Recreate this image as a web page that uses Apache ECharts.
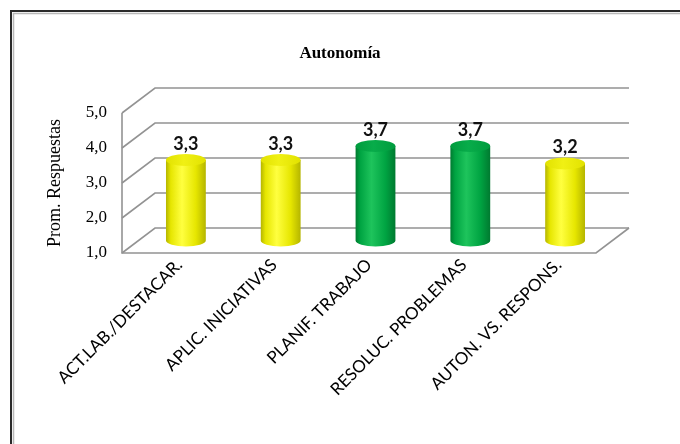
<!DOCTYPE html>
<html>
<head>
<meta charset="utf-8">
<script src="https://cdn.jsdelivr.net/npm/echarts@6/dist/echarts.min.js"></script>
<style>
  html, body { margin: 0; padding: 0; background: #ffffff; }
  #chart { width: 680px; height: 444px; }
</style>
</head>
<body>
<div id="chart"></div>
<script>
// Chart data
const categories = ['ACT.LAB./DESTACAR.', 'APLIC. INICIATIVAS', 'PLANIF. TRABAJO', 'RESOLUC. PROBLEMAS', 'AUTON. VS. RESPONS.'];
const values = [3.3, 3.3, 3.7, 3.7, 3.2];
const barColors = ['yellow', 'yellow', 'green', 'green', 'yellow'];
const yTicks = [1, 2, 3, 4, 5];

// Pseudo-3D depth of the plot box (pixels from front plane to back wall)
const DEPTH_X = 33;
const DEPTH_Y = -25;
const Y_MIN = 1;
const Y_MAX = 5;

// Front plane of the plot box
const PLOT = { left: 122, right: 84, top: 113, bottom: 191 };
// Category labels sit a little to the right of the front ticks
const LABEL_SHIFT = 10;

const palettes = {
  yellow: { edge: '#b5b500', shade: '#e6e600', light: '#ffff40', top: '#e2e200', topLight: '#f0f014' },
  green:  { edge: '#007a30', shade: '#00a442', light: '#1ec45c', top: '#009c3e', topLight: '#08ac4a' }
};

const fmt = v => v.toFixed(1).replace('.', ',');
const gridStroke = { stroke: '#939393', lineWidth: 1.6, fill: null };

// Left wall, back wall gridlines and floor outline
function renderWalls(params, api) {
  const cs = params.coordSys;
  const v = api.value(1);
  const y = api.coord([0, v])[1];
  const x0 = cs.x, x1 = cs.x + cs.width;
  const children = [{
    type: 'polyline',
    shape: { points: [[x0, y], [x0 + DEPTH_X, y + DEPTH_Y], [x1 + DEPTH_X, y + DEPTH_Y]] },
    style: gridStroke
  }];
  if (v === Y_MIN) {
    children.push({
      type: 'polyline',
      shape: { points: [[x0, cs.y], [x0, y], [x1, y], [x1 + DEPTH_X, y + DEPTH_Y]] },
      style: gridStroke
    });
  }
  return { type: 'group', children };
}

// Cylinders standing at mid-depth
function renderCylinder(params, api) {
  const i = api.value(0);
  const v = api.value(1);
  const top = api.coord([i, v]);
  const base = api.coord([i, Y_MIN]);
  const w = api.size([1, 0])[0] * 0.42;
  const cx = top[0] + DEPTH_X / 2;
  const ty = top[1] + DEPTH_Y / 2;
  const by = base[1] + DEPTH_Y / 2;
  const rx = w / 2, ry = 6;
  const pal = palettes[barColors[params.dataIndex]];
  const bodyPath = 'M' + (cx - rx) + ',' + ty + ' L' + (cx - rx) + ',' + by +
    ' A' + rx + ',' + ry + ' 0 0 0 ' + (cx + rx) + ',' + by +
    ' L' + (cx + rx) + ',' + ty + ' Z';
  const topPath = 'M' + (cx - rx) + ',' + ty +
    ' A' + rx + ',' + ry + ' 0 1 0 ' + (cx + rx) + ',' + ty +
    ' A' + rx + ',' + ry + ' 0 1 0 ' + (cx - rx) + ',' + ty + ' Z';
  return {
    type: 'group',
    children: [
      {
        type: 'path',
        shape: { pathData: bodyPath },
        style: {
          fill: new echarts.graphic.LinearGradient(0, 0, 1, 0, [
            { offset: 0, color: pal.edge },
            { offset: 0.12, color: pal.shade },
            { offset: 0.4, color: pal.light },
            { offset: 0.75, color: pal.shade },
            { offset: 1, color: pal.edge }
          ])
        }
      },
      {
        type: 'path',
        shape: { pathData: topPath },
        style: {
          fill: new echarts.graphic.LinearGradient(0, 0, 1, 0, [
            { offset: 0, color: pal.top },
            { offset: 0.45, color: pal.topLight },
            { offset: 1, color: pal.top }
          ])
        }
      },
      {
        type: 'text',
        style: {
          x: cx, y: ty - ry - 1,
          text: fmt(v),
          align: 'center', verticalAlign: 'bottom',
          fill: '#111111',
          font: 'bold 18px Lato, "Open Sans", sans-serif'
        }
      }
    ]
  };
}

const chart = echarts.init(document.getElementById('chart'), null, { renderer: 'canvas' });
chart.setOption({
  animation: false,
  backgroundColor: '#ffffff',
  title: {
    text: 'Autonomía',
    left: 'center',
    top: 40,
    textStyle: { fontFamily: '"Liberation Serif", serif', fontWeight: 'bold', fontSize: 17, color: '#000000' }
  },
  graphic: [
    { type: 'rect', shape: { x: 11, y: 11, width: 700, height: 500 }, style: { fill: null, stroke: '#2a2a2a', lineWidth: 2 } },
    { type: 'rect', shape: { x: 13.5, y: 13.5, width: 700, height: 500 }, style: { fill: null, stroke: '#b8b8b8', lineWidth: 1.5 } }
  ],
  grid: [
    { left: PLOT.left, right: PLOT.right, top: PLOT.top, bottom: PLOT.bottom },
    { left: PLOT.left + LABEL_SHIFT, right: PLOT.right - LABEL_SHIFT, top: PLOT.top, bottom: PLOT.bottom }
  ],
  xAxis: [
    {
      type: 'category',
      gridIndex: 0,
      data: categories,
      axisLine: { show: false },
      axisTick: { show: false },
      axisLabel: { show: false }
    },
    {
      type: 'category',
      gridIndex: 1,
      data: categories,
      axisLine: { show: false },
      axisTick: { show: false },
      axisLabel: {
        interval: 0,
        rotate: 45,
        margin: 9,
        fontFamily: 'Lato, "Open Sans", sans-serif',
        fontSize: 17,
        color: '#000000'
      }
    }
  ],
  yAxis: [
    {
      type: 'value',
      gridIndex: 0,
      min: Y_MIN,
      max: Y_MAX,
      interval: 1,
      name: 'Prom. Respuestas',
      nameLocation: 'middle',
      nameRotate: 90,
      nameGap: 58,
      nameTextStyle: { fontFamily: '"Liberation Serif", serif', fontSize: 18, color: '#000000' },
      axisLine: { show: false },
      axisTick: { show: false },
      splitLine: { show: false },
      axisLabel: {
        formatter: fmt,
        margin: 15,
        padding: [4, 0, 0, 0],
        fontFamily: '"Liberation Serif", serif',
        fontSize: 17,
        color: '#000000'
      }
    },
    {
      type: 'value',
      gridIndex: 1,
      min: Y_MIN,
      max: Y_MAX,
      show: false
    }
  ],
  series: [
    {
      type: 'custom',
      name: 'walls',
      renderItem: renderWalls,
      data: yTicks.map(v => [0, v]),
      encode: { x: 0, y: 1 },
      silent: true,
      z: 1
    },
    {
      type: 'custom',
      name: 'Autonomía',
      renderItem: renderCylinder,
      data: values.map((v, i) => [i, v]),
      encode: { x: 0, y: 1 },
      z: 2
    }
  ]
});
</script>
</body>
</html>
